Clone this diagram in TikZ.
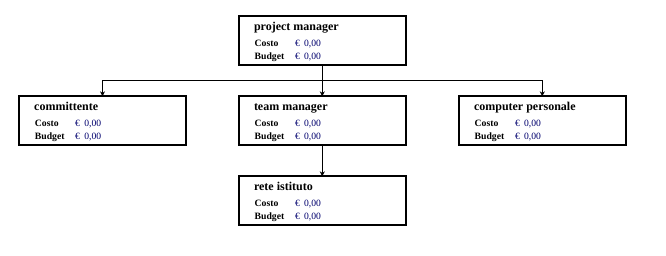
\documentclass[tikz,border=0pt]{standalone}
\usepackage{fontspec}
\setmainfont{Liberation Serif}
\usetikzlibrary{arrows.meta}
\definecolor{valblue}{RGB}{0,0,110}
\tikzset{
  orgbox/.style={draw=black, line width=2pt, minimum width=167pt, minimum height=48.5pt,
    inner sep=0pt, outer sep=0pt},
  boxtitle/.style={anchor=base west, inner sep=0pt, font=\fontsize{12}{14}\selectfont\bfseries},
  fieldname/.style={anchor=base west, inner sep=0pt, font=\fontsize{9.7}{11}\selectfont\bfseries},
  fieldval/.style={anchor=base west, inner sep=0pt, text=valblue, font=\fontsize{9.6}{11}\selectfont},
  link/.style={draw=black, line width=1pt, -{Stealth[length=5pt,width=5pt]}},
}
% one project box: name, centre, title
\newcommand{\projbox}[3]{%
  \node[orgbox] (#1) at (#2) {};
  \node[boxtitle]  (#1-t)  at ([xshift=15pt,yshift=-14.5pt]#1.north west) {#3};
  \node[fieldname] (#1-c)  at ([xshift=15.7pt,yshift=-30pt]#1.north west) {Costo};
  \node[fieldval]  (#1-cv) at ([xshift=56pt,yshift=-30pt]#1.north west) {€\hspace{0.45em}0,00};
  \node[fieldname] (#1-b)  at ([xshift=15.7pt,yshift=-43.5pt]#1.north west) {Budget};
  \node[fieldval]  (#1-bv) at ([xshift=56pt,yshift=-43.5pt]#1.north west) {€\hspace{0.45em}0,00};
}
\begin{document}
\begin{tikzpicture}[x=1pt,y=1pt]
  \useasboundingbox[fill=white] (0,0) rectangle (666,-255);
  \projbox{pm}{322.3,-40.6}{project manager}
  \projbox{comm}{102.5,-120.6}{committente}
  \projbox{tm}{322.3,-120.6}{team manager}
  \projbox{cp}{542.3,-120.6}{computer personale}
  \projbox{rete}{322.3,-200.6}{rete istituto}
  % distribution bus under the project manager
  \coordinate (bus) at ([yshift=-16pt]pm.south);
  \draw[line width=1pt] (pm.south) -- (bus);
  \draw[link] (bus) -| (comm.north);
  \draw[link] (bus) -| (cp.north);
  \draw[link] (bus) -- (tm.north);
  \draw[link] (tm.south) -- (rete.north);
\end{tikzpicture}
\end{document}
